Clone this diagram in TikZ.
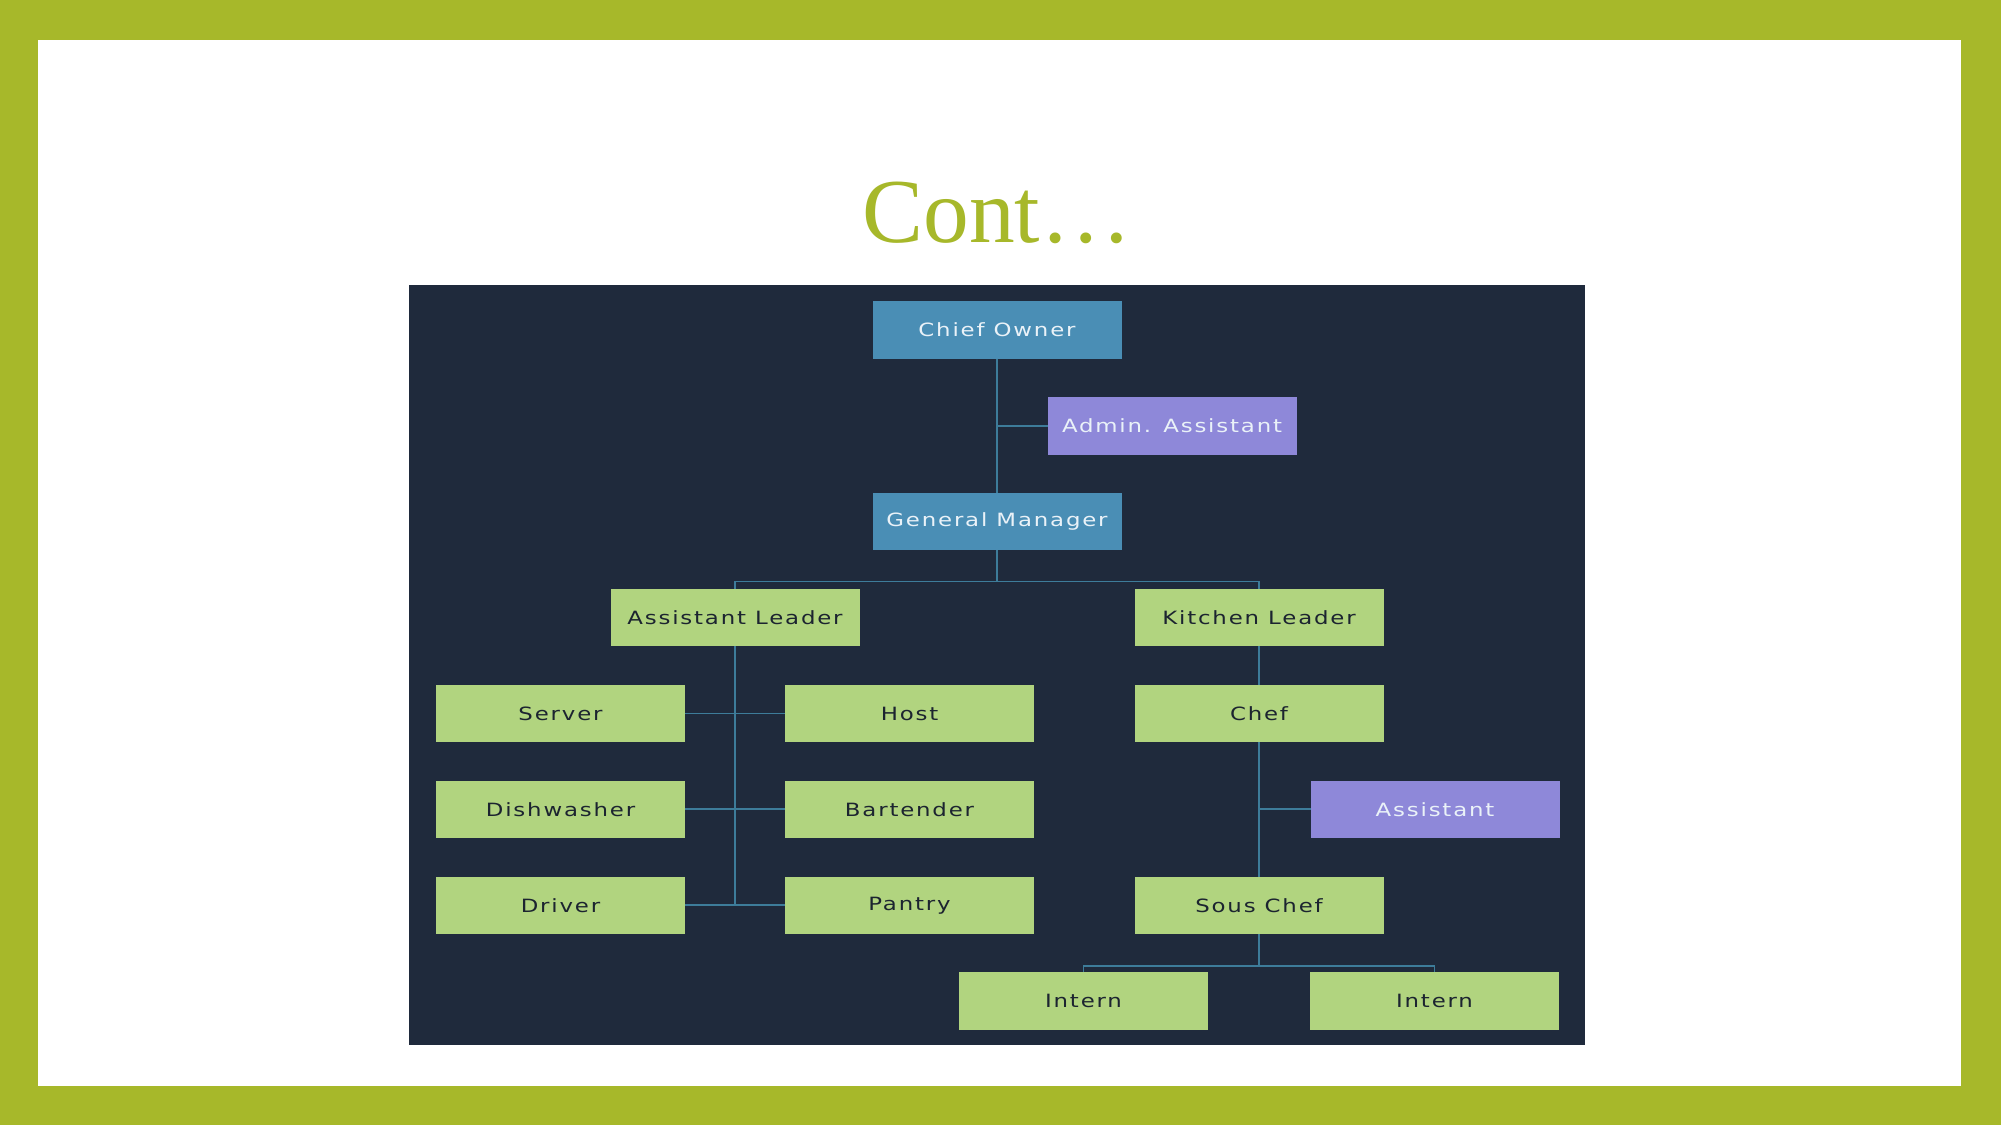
\documentclass[tikz,border=0pt]{standalone}
\usepackage{fontspec}
\setmainfont{Liberation Serif}
\newfontfamily\boxfont[FakeStretch=1.25,LetterSpace=10]{DejaVu Sans}
\usepackage{xcolor}
\usepackage{tikz}
\usetikzlibrary{positioning,calc}
\definecolor{frameGreen}{HTML}{A7B82A}
\definecolor{panelNavy}{HTML}{1F2A3C}
\definecolor{boxBlue}{HTML}{4A8EB5}
\definecolor{boxPurple}{HTML}{8E88D9}
\definecolor{boxGreen}{HTML}{B1D47F}
\definecolor{linkTeal}{HTML}{3D7C9A}
\definecolor{boxInk}{HTML}{1C2430}
\definecolor{boxLight}{HTML}{EAF2F8}

\begin{document}
\begin{tikzpicture}[font=\boxfont\fontsize{5.2}{6}\selectfont,
 box/.style={inner sep=0pt,outer sep=0pt,minimum width=24.9mm,minimum height=5.75mm,align=center},
 role/.style={box,fill=boxGreen,text=boxInk},
 head/.style={box,fill=boxBlue,text=boxLight},
 aide/.style={box,fill=boxPurple,text=boxLight},
 link/.style={draw=linkTeal,line width=0.55pt}]
% slide frame and panel
\fill[frameGreen] (0,0) rectangle (20.01,-11.25);
\fill[white] (0.38,-0.40) rectangle (19.61,-10.86);
\fill[panelNavy] (4.09,-2.85) rectangle (15.85,-10.45);
\node[font=\fontsize{26}{30}\selectfont,text=frameGreen,anchor=base] (title) at (9.97,-2.42) {Cont…};
% front of house
\node[role] (srv) at (5.605,-7.135) {Server};
\node[role,right=10mm of srv] (host) {Host};
\node[role,below=3.84mm of srv] (dish) {Dishwasher};
\node[role,right=10mm of dish] (bar) {Bartender};
\node[role,below=3.84mm of dish] (drv) {Driver};
\node[role,right=10mm of drv] (pan) {Pantry};
\node[role,above=3.84mm of $(srv.north)!0.5!(host.north)$] (al) {Assistant Leader};
% kitchen
\node[role,right=27.5mm of al] (kl) {Kitchen Leader};
\node[role,below=3.84mm of kl] (chef) {Chef};
\node[aide,below right=3.84mm and -7.3mm of chef] (ast) {Assistant};
\node[role,below=13.43mm of chef] (sous) {Sous Chef};
\node[role,below=3.84mm of sous,xshift=-17.55mm] (int1) {Intern};
\node[role,below=3.84mm of sous,xshift=17.55mm] (int2) {Intern};
% top
\node[head,above=3.84mm of $(al.north)!0.5!(kl.north)$] (gm) {General Manager};
\node[head,above=13.43mm of gm] (ceo) {Chief Owner};
\node[aide,above right=3.84mm and -7.4mm of gm] (adm) {Admin. Assistant};
% links
\draw[link] (ceo) -- (gm);
\draw[link] (adm.west) -- (adm.west -| ceo.south);
\draw[link] (gm.south) -- ++(0,-3.1mm) -| (al.north);
\draw[link] (gm.south) -- ++(0,-3.1mm) -| (kl.north);
\draw[link] (al.south) -- (al.south |- drv.east);
\draw[link] (srv) -- (host);
\draw[link] (dish) -- (bar);
\draw[link] (drv) -- (pan);
\draw[link] (kl) -- (chef);
\draw[link] (chef) -- (sous);
\draw[link] (ast.west) -- (ast.west -| chef.south);
\draw[link] (sous.south) -- ++(0,-3.2mm) -| (int1.north);
\draw[link] (sous.south) -- ++(0,-3.2mm) -| (int2.north);
\end{tikzpicture}
\end{document}
